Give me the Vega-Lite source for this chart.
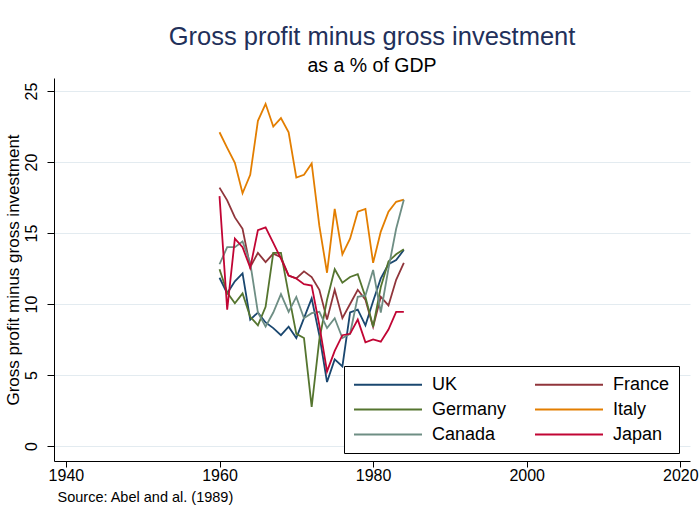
{
  "$schema": "https://vega.github.io/schema/vega-lite/v6.json",
  "width": 636,
  "height": 383,
  "autosize": "none",
  "padding": {"left": 54, "top": 78, "right": 9, "bottom": 49},
  "background": "white",
  "config": {"font": "Liberation Sans", "view": {"stroke": null}},
  "title": {
    "text": "Gross profit minus gross investment",
    "subtitle": "as a % of GDP",
    "anchor": "middle",
    "fontSize": 25.5,
    "fontWeight": "normal",
    "color": "#22305a",
    "subtitleFontSize": 19.5,
    "subtitleColor": "#000000",
    "subtitlePadding": 6,
    "offset": 3
  },
  "data": {
    "values": [
      {"country": "UK", "year": 1960, "value": 11.85},
      {"country": "UK", "year": 1961, "value": 10.75},
      {"country": "UK", "year": 1962, "value": 11.6},
      {"country": "UK", "year": 1963, "value": 12.15},
      {"country": "UK", "year": 1964, "value": 8.9},
      {"country": "UK", "year": 1965, "value": 9.4},
      {"country": "UK", "year": 1966, "value": 8.7},
      {"country": "UK", "year": 1967, "value": 8.3},
      {"country": "UK", "year": 1968, "value": 7.8},
      {"country": "UK", "year": 1969, "value": 8.4},
      {"country": "UK", "year": 1970, "value": 7.6},
      {"country": "UK", "year": 1971, "value": 9.0},
      {"country": "UK", "year": 1972, "value": 10.4},
      {"country": "UK", "year": 1973, "value": 7.8},
      {"country": "UK", "year": 1974, "value": 4.5},
      {"country": "UK", "year": 1975, "value": 6.1},
      {"country": "UK", "year": 1976, "value": 5.6},
      {"country": "UK", "year": 1977, "value": 9.4},
      {"country": "UK", "year": 1978, "value": 9.6},
      {"country": "UK", "year": 1979, "value": 8.5},
      {"country": "UK", "year": 1980, "value": 10.2},
      {"country": "UK", "year": 1981, "value": 11.8},
      {"country": "UK", "year": 1982, "value": 12.8},
      {"country": "UK", "year": 1983, "value": 13.1},
      {"country": "UK", "year": 1984, "value": 13.8},
      {"country": "France", "year": 1960, "value": 18.2},
      {"country": "France", "year": 1961, "value": 17.3},
      {"country": "France", "year": 1962, "value": 16.1},
      {"country": "France", "year": 1963, "value": 15.3},
      {"country": "France", "year": 1964, "value": 12.6},
      {"country": "France", "year": 1965, "value": 13.6},
      {"country": "France", "year": 1966, "value": 12.95},
      {"country": "France", "year": 1967, "value": 13.55},
      {"country": "France", "year": 1968, "value": 13.3},
      {"country": "France", "year": 1969, "value": 12.0},
      {"country": "France", "year": 1970, "value": 11.8},
      {"country": "France", "year": 1971, "value": 12.3},
      {"country": "France", "year": 1972, "value": 11.9},
      {"country": "France", "year": 1973, "value": 11.0},
      {"country": "France", "year": 1974, "value": 8.9},
      {"country": "France", "year": 1975, "value": 11.0},
      {"country": "France", "year": 1976, "value": 9.0},
      {"country": "France", "year": 1977, "value": 10.0},
      {"country": "France", "year": 1978, "value": 11.0},
      {"country": "France", "year": 1979, "value": 10.3},
      {"country": "France", "year": 1980, "value": 8.4},
      {"country": "France", "year": 1981, "value": 10.5},
      {"country": "France", "year": 1982, "value": 9.9},
      {"country": "France", "year": 1983, "value": 11.7},
      {"country": "France", "year": 1984, "value": 12.9},
      {"country": "Germany", "year": 1960, "value": 12.45},
      {"country": "Germany", "year": 1961, "value": 10.8},
      {"country": "Germany", "year": 1962, "value": 10.05},
      {"country": "Germany", "year": 1963, "value": 10.75},
      {"country": "Germany", "year": 1964, "value": 9.1},
      {"country": "Germany", "year": 1965, "value": 8.5},
      {"country": "Germany", "year": 1966, "value": 9.8},
      {"country": "Germany", "year": 1967, "value": 13.6},
      {"country": "Germany", "year": 1968, "value": 13.6},
      {"country": "Germany", "year": 1969, "value": 10.7},
      {"country": "Germany", "year": 1970, "value": 7.9},
      {"country": "Germany", "year": 1971, "value": 7.6},
      {"country": "Germany", "year": 1972, "value": 2.75},
      {"country": "Germany", "year": 1973, "value": 7.5},
      {"country": "Germany", "year": 1974, "value": 10.3},
      {"country": "Germany", "year": 1975, "value": 12.45},
      {"country": "Germany", "year": 1976, "value": 11.5},
      {"country": "Germany", "year": 1977, "value": 11.9},
      {"country": "Germany", "year": 1978, "value": 12.1},
      {"country": "Germany", "year": 1979, "value": 10.5},
      {"country": "Germany", "year": 1980, "value": 8.4},
      {"country": "Germany", "year": 1981, "value": 11.2},
      {"country": "Germany", "year": 1982, "value": 13.0},
      {"country": "Germany", "year": 1983, "value": 13.5},
      {"country": "Germany", "year": 1984, "value": 13.85},
      {"country": "Italy", "year": 1960, "value": 22.1},
      {"country": "Italy", "year": 1961, "value": 21.0},
      {"country": "Italy", "year": 1962, "value": 19.95},
      {"country": "Italy", "year": 1963, "value": 17.8},
      {"country": "Italy", "year": 1964, "value": 19.1},
      {"country": "Italy", "year": 1965, "value": 22.9},
      {"country": "Italy", "year": 1966, "value": 24.1},
      {"country": "Italy", "year": 1967, "value": 22.5},
      {"country": "Italy", "year": 1968, "value": 23.1},
      {"country": "Italy", "year": 1969, "value": 22.1},
      {"country": "Italy", "year": 1970, "value": 18.9},
      {"country": "Italy", "year": 1971, "value": 19.1},
      {"country": "Italy", "year": 1972, "value": 19.9},
      {"country": "Italy", "year": 1973, "value": 15.5},
      {"country": "Italy", "year": 1974, "value": 12.2},
      {"country": "Italy", "year": 1975, "value": 16.7},
      {"country": "Italy", "year": 1976, "value": 13.5},
      {"country": "Italy", "year": 1977, "value": 14.6},
      {"country": "Italy", "year": 1978, "value": 16.5},
      {"country": "Italy", "year": 1979, "value": 16.7},
      {"country": "Italy", "year": 1980, "value": 12.9},
      {"country": "Italy", "year": 1981, "value": 15.1},
      {"country": "Italy", "year": 1982, "value": 16.5},
      {"country": "Italy", "year": 1983, "value": 17.2},
      {"country": "Italy", "year": 1984, "value": 17.35},
      {"country": "Canada", "year": 1960, "value": 12.8},
      {"country": "Canada", "year": 1961, "value": 14.0},
      {"country": "Canada", "year": 1962, "value": 14.0},
      {"country": "Canada", "year": 1963, "value": 14.4},
      {"country": "Canada", "year": 1964, "value": 12.9},
      {"country": "Canada", "year": 1965, "value": 9.4},
      {"country": "Canada", "year": 1966, "value": 8.4},
      {"country": "Canada", "year": 1967, "value": 9.4},
      {"country": "Canada", "year": 1968, "value": 10.7},
      {"country": "Canada", "year": 1969, "value": 9.45},
      {"country": "Canada", "year": 1970, "value": 10.5},
      {"country": "Canada", "year": 1971, "value": 9.0},
      {"country": "Canada", "year": 1972, "value": 9.35},
      {"country": "Canada", "year": 1973, "value": 9.45},
      {"country": "Canada", "year": 1974, "value": 8.3},
      {"country": "Canada", "year": 1975, "value": 9.0},
      {"country": "Canada", "year": 1976, "value": 7.6},
      {"country": "Canada", "year": 1977, "value": 7.9},
      {"country": "Canada", "year": 1978, "value": 10.5},
      {"country": "Canada", "year": 1979, "value": 10.6},
      {"country": "Canada", "year": 1980, "value": 12.4},
      {"country": "Canada", "year": 1981, "value": 9.4},
      {"country": "Canada", "year": 1982, "value": 12.5},
      {"country": "Canada", "year": 1983, "value": 15.3},
      {"country": "Canada", "year": 1984, "value": 17.35},
      {"country": "Japan", "year": 1960, "value": 17.6},
      {"country": "Japan", "year": 1961, "value": 9.6},
      {"country": "Japan", "year": 1962, "value": 14.6},
      {"country": "Japan", "year": 1963, "value": 14.0},
      {"country": "Japan", "year": 1964, "value": 12.55},
      {"country": "Japan", "year": 1965, "value": 15.2},
      {"country": "Japan", "year": 1966, "value": 15.4},
      {"country": "Japan", "year": 1967, "value": 14.3},
      {"country": "Japan", "year": 1968, "value": 13.2},
      {"country": "Japan", "year": 1969, "value": 12.0},
      {"country": "Japan", "year": 1970, "value": 11.8},
      {"country": "Japan", "year": 1971, "value": 11.4},
      {"country": "Japan", "year": 1972, "value": 11.3},
      {"country": "Japan", "year": 1973, "value": 8.5},
      {"country": "Japan", "year": 1974, "value": 5.25},
      {"country": "Japan", "year": 1975, "value": 6.7},
      {"country": "Japan", "year": 1976, "value": 7.8},
      {"country": "Japan", "year": 1977, "value": 7.9},
      {"country": "Japan", "year": 1978, "value": 8.9},
      {"country": "Japan", "year": 1979, "value": 7.3},
      {"country": "Japan", "year": 1980, "value": 7.5},
      {"country": "Japan", "year": 1981, "value": 7.35},
      {"country": "Japan", "year": 1982, "value": 8.2},
      {"country": "Japan", "year": 1983, "value": 9.45},
      {"country": "Japan", "year": 1984, "value": 9.45}
    ]
  },
  "mark": {"type": "line", "strokeWidth": 1.8, "clip": false},
  "encoding": {
    "x": {
      "field": "year",
      "type": "quantitative",
      "scale": {"domain": [1938.45, 2021.26], "nice": false, "zero": false},
      "axis": {
        "values": [1940, 1960, 1980, 2000, 2020],
        "format": "d",
        "grid": false,
        "domainColor": "#000000",
        "domainWidth": 1,
        "tickColor": "#000000",
        "tickSize": 6,
        "labelFontSize": 16,
        "labelColor": "#000000",
        "labelPadding": 0,
        "labelFlush": false,
        "title": "Source: Abel and al. (1989)",
        "titleFontSize": 14.5,
        "titleFontWeight": "normal",
        "titleColor": "#000000",
        "titleAnchor": "start",
        "titleAlign": "left",
        "titleBaseline": "alphabetic",
        "titleX": 3,
        "titleY": 40
      }
    },
    "y": {
      "field": "value",
      "type": "quantitative",
      "scale": {"domain": [-1.06, 25.92], "nice": false, "zero": false},
      "axis": {
        "values": [0, 5, 10, 15, 20, 25],
        "grid": true,
        "gridColor": "#e3ebf0",
        "gridWidth": 1,
        "domainColor": "#000000",
        "domainWidth": 1,
        "tickColor": "#000000",
        "tickSize": 7,
        "labelFontSize": 16,
        "labelColor": "#000000",
        "labelAngle": -90,
        "labelAlign": "center",
        "labelBaseline": "bottom",
        "labelPadding": 8,
        "labelFlush": false,
        "title": "Gross profit minus gross investment",
        "titleFontSize": 17,
        "titleFontWeight": "normal",
        "titleColor": "#000000",
        "titleAngle": -90,
        "titleAlign": "center",
        "titleBaseline": "bottom",
        "titleX": -32,
        "titleY": 191.5
      }
    },
    "color": {
      "field": "country",
      "type": "nominal",
      "scale": {
        "domain": ["UK", "France", "Germany", "Italy", "Canada", "Japan"],
        "range": ["#1a476f", "#90353b", "#55752f", "#e37e00", "#6e8e84", "#c10534"]
      },
      "legend": {
        "title": null,
        "orient": "none",
        "legendX": 290,
        "legendY": 288,
        "columns": 2,
        "direction": "horizontal",
        "columnPadding": 24,
        "rowPadding": 6,
        "padding": 9,
        "strokeColor": "#000000",
        "fillColor": "#ffffff",
        "symbolType": "M-1,0H7",
        "symbolSize": 289,
        "symbolStrokeWidth": 1.8,
        "labelFontSize": 18,
        "labelColor": "#000000",
        "labelOffset": 60,
        "labelLimit": 200
      }
    }
  }
}
